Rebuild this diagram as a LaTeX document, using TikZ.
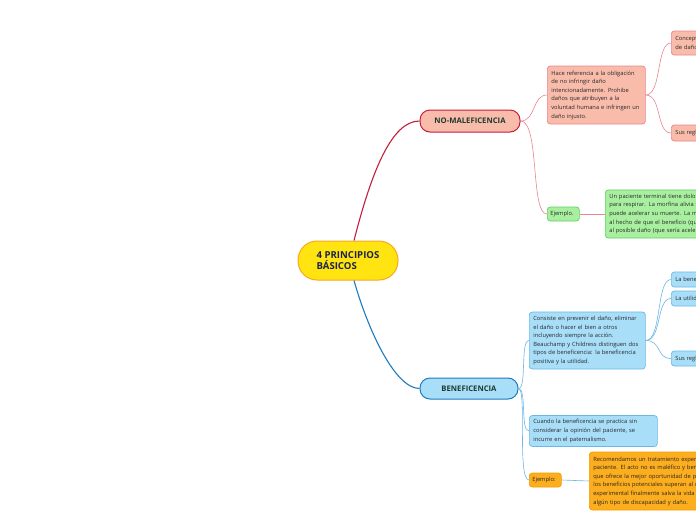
\documentclass[tikz,border=0pt]{standalone}
\usepackage{fontspec}
\setmainfont{Open Sans}
\definecolor{salmon}{HTML}{F9BCAB}
\definecolor{crimson}{HTML}{C41E3A}
\definecolor{pinkline}{HTML}{E9868E}
\definecolor{gfill}{HTML}{A8F0A0}
\definecolor{gline}{HTML}{66CC66}
\definecolor{bfill}{HTML}{A9DEF9}
\definecolor{bdark}{HTML}{1D7CC0}
\definecolor{blight}{HTML}{6BB8E6}
\definecolor{ofill}{HTML}{FDAE1E}
\definecolor{oline}{HTML}{F29B00}
\definecolor{yfill}{HTML}{FFE411}
\definecolor{yline}{HTML}{F7A823}
\definecolor{labtxt}{HTML}{1F3A2F}
\definecolor{titletxt}{HTML}{1B2448}
\definecolor{txt}{HTML}{262626}
\tikzset{
  txtbox/.style={font=\fontsize{5.75}{8.6}\selectfont, text=txt, align=left, inner sep=4pt, rounded corners=3pt, line width=0.7pt, anchor=west},
  salbox/.style={txtbox, fill=salmon, draw=pinkline},
  grbox/.style={txtbox, fill=gfill, draw=gline},
  blbox/.style={txtbox, fill=bfill, draw=blight},
  orbox/.style={txtbox, fill=ofill, draw=oline},
  branch/.style={font=\bfseries\fontsize{7.7}{8}\selectfont, text=labtxt, rounded corners=10pt, line width=1pt, minimum height=22pt, inner sep=2pt},
  conn/.style={line width=0.6pt},
}
\begin{document}
\begin{tikzpicture}[x=1pt,y=-1pt]
\useasboundingbox (0,0) rectangle (696,520);
\fill[white] (0,0) rectangle (696,520);
\clip (0,0) rectangle (696,520);

% central
\node[fill=yfill, draw=yline, line width=1pt, rounded corners=19pt, minimum width=100pt, minimum height=39pt, font=\bfseries\fontsize{9.6}{11.5}\selectfont, text=titletxt, align=left] (c) at (348,260.5) {4 PRINCIPIOS\\BÁSICOS};

% branches
\node[branch, fill=salmon, draw=crimson, minimum width=100pt] (nm) at (470,121) {NO-MALEFICENCIA};
\node[branch, fill=bfill, draw=bdark, minimum width=98pt, minimum height=21pt] (be) at (469,388.5) {BENEFICENCIA};

% no-maleficencia children
\node[salbox, text width=90pt, minimum height=58pt] (hace) at (547,95) {Hace referencia a la obligación\\de no infringir daño\\intencionadamente. Prohibe\\daños que atribuyen a la\\voluntad humana e infringen un\\daño injusto.};
\node[salbox, text width=80pt, minimum height=24pt] (concep) at (671,43) {Concepto\\de daño};
\node[salbox, text width=80pt, minimum height=16pt] (susa) at (671,133) {Sus reglas};
\node[grbox, text width=26pt, minimum height=14pt, inner sep=3pt] (ej1) at (547,214) {Ejemplo.};
\node[grbox, text width=200pt, minimum height=48pt] (pac) at (605,214) {Un paciente terminal tiene dolor y dificultad\\para respirar. La morfina alivia su dolor, pero\\puede acelerar su muerte. La morfina se justifica\\al hecho de que el beneficio (que es aliviar el dolor)\\al posible daño (que sería acelerar la muerte).};

% beneficencia children
\node[blbox, text width=108pt, minimum height=57pt] (cons) at (529,340.5) {Consiste en prevenir el daño, eliminar\\el daño o hacer el bien a otros\\incluyendo siempre la acción.\\Beauchamp y Childress distinguen dos\\tipos de beneficencia: la beneficencia\\positiva y la utilidad.};
\node[blbox, text width=80pt, minimum height=15pt] (labe) at (671,279.5) {La beneficencia positiva};
\node[blbox, text width=80pt, minimum height=15pt] (laut) at (671,298.5) {La utilidad};
\node[blbox, text width=80pt, minimum height=15pt] (susb) at (671,358.5) {Sus reglas};
\node[blbox, text width=120pt, minimum height=30pt] (cuan) at (529,431) {Cuando la beneficencia se practica sin\\considerar la opinión del paciente, se\\incurre en el paternalismo.};
\node[orbox, text width=26pt, minimum height=14pt, inner sep=3pt] (ej2) at (529,480) {Ejemplo:};
\node[orbox, text width=200pt, minimum height=58pt] (rec) at (589,481) {Recomendamos un tratamiento experimental a un\\paciente. El acto no es maléfico y beneficioso ya\\que ofrece la mejor oportunidad de prolongar la vida;\\los beneficios potenciales superan al riesgo. El tratamiento\\experimental finalmente salva la vida del paciente, con\\algún tipo de discapacidad y daño.};

% connectors
\draw[crimson, line width=1.1pt] (c.north) ++(6,0) coordinate (cn) (cn) .. controls (372,170) and (392,121) .. (nm.west);
\draw[bdark, line width=1.1pt] (c.south) ++(6,0) coordinate (cs) (cs) .. controls (368,330) and (395,388.5) .. (be.west);

\draw[pinkline, conn] (nm.east) .. controls (536,121) and (532,95) .. (hace.west);
\draw[pinkline, conn] (nm.east) .. controls (540,121) and (530,214) .. (ej1.west);
\draw[pinkline, conn] (hace.east) .. controls (662,95) and (656,43) .. (concep.west);
\draw[pinkline, conn] (hace.east) .. controls (662,95) and (656,133) .. (susa.west);
\draw[pinkline, conn] (ej1.east) -- (pac.west);

\draw[blight, conn] (be.east) .. controls (527,388.5) and (520,340.5) .. (cons.west);
\draw[blight, conn] (be.east) .. controls (527,388.5) and (520,431) .. (cuan.west);
\draw[blight, conn] (be.east) .. controls (527,388.5) and (517,480) .. (ej2.west);
\draw[blight, conn] (cons.east) .. controls (662,340.5) and (656,279.5) .. (labe.west);
\draw[blight, conn] (cons.east) .. controls (662,340.5) and (656,298.5) .. (laut.west);
\draw[blight, conn] (cons.east) .. controls (662,340.5) and (656,358.5) .. (susb.west);
\draw[blight, conn] (ej2.east) -- (rec.west);
\end{tikzpicture}
\end{document}
